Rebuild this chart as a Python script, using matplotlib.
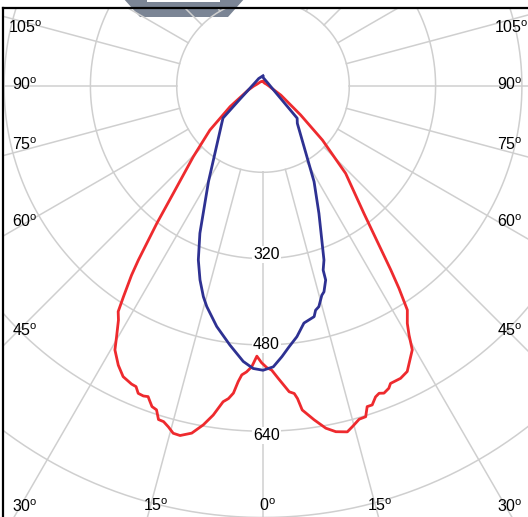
import numpy as np
import matplotlib
matplotlib.use("Agg")
import matplotlib.pyplot as plt
from matplotlib.patches import Polygon, Rectangle

plt.rcParams['font.family'] = ['Liberation Sans', 'DejaVu Sans']

# Data - luminous intensity (cd) vs angle from nadir (deg), left side negative
red_angle = [-180, -150, -120, -105, -90, -75, -60, -57.9, -50.3, -44.6, -39.9, -37.7,
             -35.6, -34.8, -33.5, -32.7, -31.7, -30.3, -29.3, -27.4, -25.7, -23.8, -22.9,
             -22.1, -21.1, -20.3, -19.9, -19.1, -18.2, -17.4, -16.5, -15.5, -14.5, -13.35,
             -11.6, -10.0, -8.6, -7.2, -6.3, -5.5, -4.8, -4.2, -3.3, -2.3, -1.3, -0.3,
             0.75, 1.75, 3.0, 4.9, 5.8, 6.3, 6.9, 8.7, 10.4, 11.9, 13.7, 14.7, 16.1, 17.25,
             18.0, 18.9, 19.9, 20.7, 21.5, 22.6, 23.2, 25.2, 26.8, 29.5, 30.4, 31.3, 32.8,
             33.9, 34.8, 38.4, 43.4, 47.7, 52.4, 63, 75, 90, 120, 150, 180]
red_cd = [9, 9, 10, 12, 17, 28, 60, 72, 128, 184, 259, 322,
          397, 427, 469, 497, 510, 538, 561, 583, 598, 604, 605,
          615, 616, 614, 619, 629, 632, 648, 649, 656, 665, 666,
          657, 638, 617, 590, 583, 572, 550, 537, 531, 521, 501, 513,
          522, 527, 543, 569, 573, 583, 605, 626, 645, 655, 660, 653, 643, 642,
          625, 625, 613, 609, 612, 607, 600, 599, 593, 562, 535, 515, 494,
          452, 415, 301, 223, 149, 88, 37, 17, 11, 7, 6, 8]

blue_angle = [-180, -150, -120, -105, -90, -75, -60, -51.3, -47.9, -29.7, -23.2, -20.4,
              -18.0, -15.8, -14.3, -10.9, -7.3, -4.1, -2.0, 0, 2.1, 4.0, 5.7, 7.7, 9.8,
              12.5, 13.2, 14.2, 15.7, 16.5, 17.9, 18.1, 19.3, 23.7, 28.1, 42.6, 46.7,
              60, 75, 90, 105, 120, 150, 180]
blue_cd = [19, 16, 15.5, 17, 20.5, 28, 50, 95, 103, 204, 297, 344,
           378, 406, 422, 454, 484, 512, 524, 527, 521, 503, 486, 469, 446,
           438, 427, 422, 403, 398, 378, 359, 342, 258, 201, 94, 87,
           30, 18, 13.5, 11.5, 10.6, 11, 16]

ring_values = [160, 320, 480, 640, 800, 960]
ring_labels = ["320", "480", "640"]
spoke_angles = np.arange(0, 360, 15)
angle_labels_left = ["105", "90", "75", "60", "45", "30"]
angle_labels_bottom = ["15", "0", "15"]
angle_labels_right = ["105", "90", "75", "60", "45", "30"]

W, H = 528, 517
fig = plt.figure(figsize=(W / 100, H / 100), dpi=100)

# layout in pixels: polar centre and scale
cx, cy = 263, 86
px_per_cd = 86.3 / 160
ax_l, ax_t, ax_r, ax_b = 2.5, 8, 575, 575
ax = fig.add_axes([ax_l / W, 1 - ax_b / H, (ax_r - ax_l) / W, (ax_b - ax_t) / H])
ax.set_xlim((ax_l - cx) / px_per_cd, (ax_r - cx) / px_per_cd)
ax.set_ylim(-(ax_b - cy) / px_per_cd, -(ax_t - cy) / px_per_cd)
ax.set_xticks([])
ax.set_yticks([])
for side in ["right", "bottom"]:
    ax.spines[side].set_visible(False)
for side in ["left", "top"]:
    ax.spines[side].set_linewidth(1.6)
    ax.spines[side].set_color("black")


def polar_xy(angle_deg, r):
    a = np.radians(np.asarray(angle_deg, dtype=float))
    r = np.asarray(r, dtype=float)
    return r * np.sin(a), -r * np.cos(a)


grid_color = "#cfcfcf"
t = np.linspace(0, 360, 721)
for rv in ring_values:
    gx, gy = polar_xy(t, np.full_like(t, rv))
    ax.plot(gx, gy, color=grid_color, lw=1.1, zorder=1)
for a in spoke_angles:
    gx, gy = polar_xy([a, a], [ring_values[0], 2000])
    ax.plot(gx, gy, color=grid_color, lw=1.1, zorder=1)

rx, ry = polar_xy(red_angle, red_cd)
ax.plot(rx, ry, color="#ee2a2e", lw=2.0, zorder=3, solid_joinstyle="round")
bx, by = polar_xy(blue_angle, blue_cd)
ax.plot(bx, by, color="#2e3192", lw=2.0, zorder=4, solid_joinstyle="round")

# lamp icon above the frame
icon = Polygon([(123 / W, 1 + 2 / H), (245 / W, 1 + 2 / H), (228 / W, 1 - 17 / H), (140 / W, 1 - 17 / H)],
               closed=True, transform=fig.transFigure, facecolor="#7b8595", edgecolor="none",
               clip_on=False, zorder=0.5)
ax.add_patch(icon)
ax.add_patch(Rectangle((147 / W, 1 - 2 / H), 73 / W, 4 / H, transform=fig.transFigure,
                       facecolor="white", edgecolor="none", clip_on=False, zorder=0.6))

fs = 11.5
deg = r"$^{\mathregular{o}}$"


def put(txt, px, py, box=False):
    kw = dict(fontsize=fs, ha="left", va="baseline", zorder=5)
    if box:
        kw["bbox"] = dict(facecolor="white", edgecolor="none", pad=1.0)
    fig.text(px / W, 1 - py / H, txt, **kw)


# ring labels
for txt, py in zip(ring_labels, [259, 349, 440]):
    put(txt, 253, py, box=True)

# angle labels
for txt, py in zip(angle_labels_left, [33, 90, 150, 227, 336, 512]):
    put(txt + deg, 8 if txt == "105" else 12, py)
for txt, py in zip(angle_labels_right, [33, 90, 150, 227, 336, 512]):
    put(txt + deg, 494 if txt == "105" else 497, py)
for txt, px in zip(angle_labels_bottom, [143, 259, 367]):
    put(txt + deg, px, 511)

plt.savefig("out.png", dpi=100)
